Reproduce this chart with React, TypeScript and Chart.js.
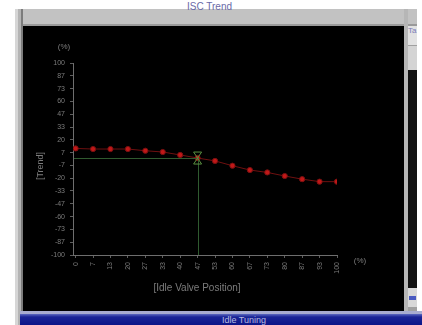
import React, { useEffect, useRef } from "react";
import { Chart, registerables } from "chart.js";

Chart.register(...registerables);

const xTickValues = [0, 6.67, 13.33, 20, 26.67, 33.33, 40, 46.67, 53.33, 60, 66.67, 73.33, 80, 86.67, 93.33, 100];
const xTickLabels = ["0", "7", "13", "20", "27", "33", "40", "47", "53", "60", "67", "73", "80", "87", "93", "100"];
const yTickValues = [100, 86.67, 73.33, 60, 46.67, 33.33, 20, 6.67, -6.67, -20, -33.33, -46.67, -60, -73.33, -86.67, -100];
const yTickLabels = ["100", "87", "73", "60", "47", "33", "20", "7", "-7", "-20", "-33", "-47", "-60", "-73", "-87", "-100"];
const trendValues = [11, 10.4, 10.4, 10.4, 8.6, 7.3, 4.2, 1, -2, -7, -11.5, -14, -17.7, -21, -23.6, -23.6];
const selectedIndex = 7;

const xTitle = "[Idle Valve Position]";
const yTitle = "[Trend]";
const unitLabel = "(%)";
const windowTitle = "ISC Trend";
const statusText = "Idle Tuning";

const FONT = "'Liberation Sans', Arial, sans-serif";
const TEXT = "#7c7c7c";

const overlayPlugin = {
  id: "overlay",
  afterDatasetsDraw(chart: any) {
    const ctx = chart.ctx;
    const xs = chart.scales.x;
    const ys = chart.scales.y;
    const area = chart.chartArea;
    const px = xs.getPixelForValue(xTickValues[selectedIndex]);
    const py = ys.getPixelForValue(trendValues[selectedIndex]);
    ctx.save();
    ctx.strokeStyle = "#2f5a2f";
    ctx.lineWidth = 1;
    ctx.beginPath();
    ctx.moveTo(area.left + 1, Math.round(py) + 0.5);
    ctx.lineTo(px, Math.round(py) + 0.5);
    ctx.moveTo(Math.round(px) + 0.5, py);
    ctx.lineTo(Math.round(px) + 0.5, area.bottom);
    ctx.stroke();
    ctx.strokeStyle = "#5a8f40";
    ctx.beginPath();
    ctx.moveTo(px - 4, py - 6);
    ctx.lineTo(px + 4, py - 6);
    ctx.lineTo(px - 4, py + 6);
    ctx.lineTo(px + 4, py + 6);
    ctx.closePath();
    ctx.stroke();
    ctx.fillStyle = TEXT;
    ctx.font = `8px ${FONT}`;
    ctx.textAlign = "center";
    ctx.textBaseline = "middle";
    ctx.fillText(unitLabel, area.left - 9, area.top - 16);
    ctx.fillText(unitLabel, area.right + 23, area.bottom + 6);
    ctx.font = `10px ${FONT}`;
    ctx.fillText(xTitle, area.left + 124, area.bottom + 33);
    ctx.font = `9px ${FONT}`;
    ctx.translate(area.left - 32, area.top + 103);
    ctx.rotate(-Math.PI / 2);
    ctx.fillText(yTitle, 0, 0);
    ctx.restore();
  },
};

export default function App() {
  const ref = useRef<HTMLCanvasElement | null>(null);

  useEffect(() => {
    if (!ref.current) return;
    const chart = new Chart(ref.current, {
      type: "line",
      data: {
        datasets: [
          {
            data: xTickValues.map((x, i) => ({ x, y: trendValues[i] })),
            borderColor: "#6e1010",
            borderWidth: 1,
            pointRadius: 2.6,
            pointBackgroundColor: "#c01818",
            pointBorderColor: "#7a1010",
            pointBorderWidth: 1,
            fill: false,
            tension: 0,
          },
        ],
      },
      options: {
        responsive: false,
        animation: false,
        devicePixelRatio: 1,
        layout: { padding: { left: 0, right: 67, top: 37, bottom: 0 } },
        plugins: { legend: { display: false }, tooltip: { enabled: false }, title: { display: false } },
        scales: {
          x: {
            type: "linear",
            min: -1,
            max: 100,
            afterBuildTicks: (s: any) => {
              s.ticks = xTickValues.map((v) => ({ value: v }));
            },
            afterFit: (s: any) => {
              s.height = 58;
            },
            ticks: {
              autoSkip: false,
              minRotation: 90,
              maxRotation: 90,
              padding: 4,
              color: TEXT,
              font: { size: 7, family: FONT },
              callback: (_v: any, i: number) => xTickLabels[i],
            },
            grid: { drawOnChartArea: false, drawTicks: true, tickLength: 3, color: "#5e5e5e" },
            border: { display: true, color: "#6e6e6e" },
          },
          y: {
            type: "linear",
            min: -100,
            max: 100,
            afterBuildTicks: (s: any) => {
              s.ticks = yTickValues.map((v) => ({ value: v }));
            },
            afterFit: (s: any) => {
              s.width = 50;
            },
            ticks: {
              autoSkip: false,
              padding: 5,
              color: TEXT,
              font: { size: 7, family: FONT },
              callback: (_v: any, i: number) => yTickLabels[i],
            },
            grid: { drawOnChartArea: false, drawTicks: true, tickLength: 3, color: "#5e5e5e" },
            border: { display: true, color: "#6e6e6e" },
          },
        },
      },
      plugins: [overlayPlugin],
    } as any);
    return () => chart.destroy();
  }, []);

  const abs = (l: number, t: number, w: number, h: number, extra: any = {}) => ({
    position: "absolute" as const,
    left: l,
    top: t,
    width: w,
    height: h,
    ...extra,
  });

  return (
    <div style={abs(0, 0, 422, 325, { background: "#ffffff", overflow: "hidden", fontFamily: FONT })}>
      <div style={abs(15, 9, 402, 17, { background: "#c2c2c2", borderBottom: "2px solid #9a9a9a", boxSizing: "border-box" })} />
      <div style={abs(187, 1, 70, 12, { color: "#6a6aa8", fontSize: 10, lineHeight: "12px", zIndex: 2 })}>{windowTitle}</div>
      <div style={abs(15, 9, 8, 316, { background: "linear-gradient(to right, #d6d6d6 0px, #d6d6d6 3px, #b4b4b4 3px, #b4b4b4 6px, #7c7c7c 6px)" })} />
      <div style={abs(404, 9, 4, 304, { background: "#b6b6b6" })} />
      <div style={abs(408, 26, 9, 19, { background: "#e2e2e2", color: "#7a7ab8", fontSize: 8, lineHeight: "10px", overflow: "hidden" })}>Ta</div>
      <div style={abs(408, 45, 9, 25, { background: "#d4d4d4", borderTop: "1px solid #a0a0a0", boxSizing: "border-box" })} />
      <div style={abs(408, 70, 9, 218, { background: "#121212" })} />
      <div style={abs(408, 288, 9, 19, { background: "#d8d8d8" })} />
      <div style={abs(409, 296, 7, 4, { background: "#4a5ac0" })} />
      <div style={abs(408, 307, 9, 6, { background: "#a0a0a0" })} />
      <canvas ref={ref} width={381} height={287} style={abs(23, 26, 381, 287, { background: "#000000", display: "block" })} />
      <div style={abs(20, 311, 402, 3, { background: "#a8acd0" })} />
      <div
        style={abs(20, 314, 402, 11, {
          background: "linear-gradient(to bottom, #5c68c0 0px, #1a2496 3px, #0c1488 11px)",
        })}
      />
      <div style={abs(222, 315, 60, 10, { color: "#b8bce0", fontSize: 9, lineHeight: "10px", zIndex: 2 })}>{statusText}</div>
    </div>
  );
}
